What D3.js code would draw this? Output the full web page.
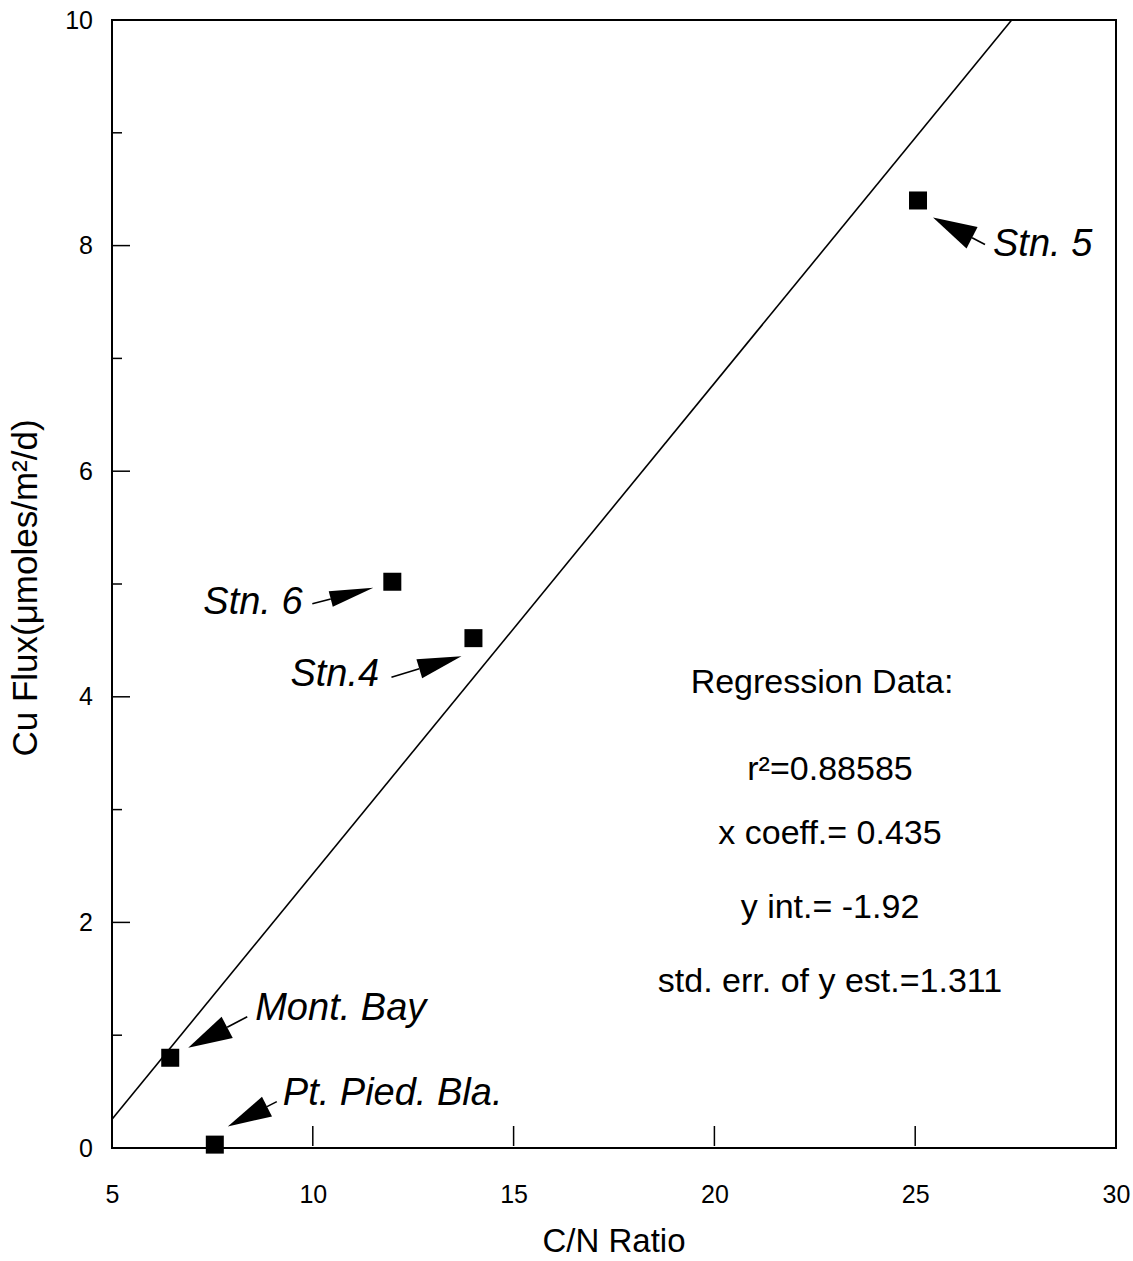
<!DOCTYPE html>
<html lang="en">
<head>
<meta charset="utf-8">
<title>Cu Flux vs C/N Ratio</title>
<script type="text/javascript" src="https://d3js.org/d3.v7.min.js"></script>
<style type="text/css">
  body { margin: 0; background: #fff; }
  svg text { font-family: "Liberation Sans", Arial, Helvetica, sans-serif; fill: #000; }
</style>
</head>
<body>
<script type="text/javascript">
// data
var stations = ["Stn. 5", "Stn. 6", "Stn.4", "Mont. Bay", "Pt. Pied. Bla."];
var cnRatio  = [25.07, 11.98, 14.0, 6.45, 7.56];
var cuFlux   = [8.40, 5.02, 4.52, 0.80, 0.03];

var regCoeff = 0.435, regInt = -1.92;
var regLines = ["r\u00B2=0.88585", "x coeff.= 0.435", "y int.= -1.92", "std. err. of y est.=1.311"];

var xTicks = [5, 10, 15, 20, 25, 30];
var yTicks = [0, 1, 2, 3, 4, 5, 6, 7, 8, 9, 10];

// label / arrow placement in pixels, relative to each point
var notes = {
  "Stn. 5":        {label: [75, 56],   tip: [15, 17],  tail: [67, 44], hw: 12},
  "Stn. 6":        {label: [-189, 32], tip: [-19, 6],  tail: [-80, 22], hw: 8},
  "Stn.4":         {label: [-183, 48], tip: [-12, 18], tail: [-82, 39], hw: 10},
  "Mont. Bay":     {label: [85, -38],  tip: [18, -10], tail: [77, -41], hw: 12},
  "Pt. Pied. Bla.":{label: [68, -40],  tip: [13, -18], tail: [62, -43], hw: 11}
};

var margin = {top: 20, right: 17, bottom: 113, left: 112},
    width = 1133 - margin.left - margin.right,
    height = 1261 - margin.top - margin.bottom;

var svg = d3.select("body").append("svg")
    .attr("width", 1133)
    .attr("height", 1261)
  .append("g")
    .attr("transform", "translate(" + margin.left + "," + margin.top + ")");

var x = d3.scaleLinear().domain([5, 30]).range([0, width]);
var y = d3.scaleLinear().domain([0, 10]).range([height, 0]);

// frame
svg.append("rect")
    .attr("x", 0).attr("y", 0)
    .attr("width", width).attr("height", height)
    .attr("fill", "none").attr("stroke", "#000").attr("stroke-width", 2);

// x axis: inward ticks at inner values, labels everywhere
var xAxis = svg.append("g")
    .attr("transform", "translate(0," + height + ")")
    .call(d3.axisBottom(x).tickValues(xTicks).tickSize(0).tickPadding(37).tickFormat(d3.format("d")));
xAxis.select(".domain").remove();
xAxis.selectAll("text").attr("font-size", "25px");

svg.append("g")
    .attr("transform", "translate(0," + height + ")")
    .selectAll("line")
    .data(xTicks.slice(1, -1))
    .enter().append("line")
    .attr("x1", function(d) { return x(d); })
    .attr("x2", function(d) { return x(d); })
    .attr("y1", -2).attr("y2", -22)
    .attr("stroke", "#000").attr("stroke-width", 1.5);

// y axis
var yAxis = svg.append("g")
    .call(d3.axisLeft(y).tickValues(yTicks).tickSize(0).tickPadding(19)
      .tickFormat(function(d) { return d % 2 === 0 ? d : ""; }));
yAxis.select(".domain").remove();
yAxis.selectAll("text").attr("font-size", "25px");

svg.append("g").selectAll("line")
    .data(yTicks.slice(1, -1))
    .enter().append("line")
    .attr("x1", 0)
    .attr("x2", function(d) { return d % 2 === 0 ? 18 : 10; })
    .attr("y1", function(d) { return y(d); })
    .attr("y2", function(d) { return y(d); })
    .attr("stroke", "#000").attr("stroke-width", 1.5);

// axis titles
svg.append("text")
    .attr("x", width / 2)
    .attr("y", height + 104)
    .attr("text-anchor", "middle")
    .attr("font-size", "33px")
    .text("C/N Ratio");

svg.append("text")
    .attr("transform", "translate(-75," + (y(5) + 4) + ") rotate(-90)")
    .attr("text-anchor", "middle")
    .attr("font-size", "35px")
    .text("Cu Flux(\u03BCmoles/m\u00B2/d)");

// regression line, clipped at y = 10
var xEnd = Math.min(30, (10 - regInt) / regCoeff);
svg.append("line")
    .attr("x1", x(5)).attr("y1", y(regCoeff * 5 + regInt))
    .attr("x2", x(xEnd)).attr("y2", y(regCoeff * xEnd + regInt))
    .attr("stroke", "#000").attr("stroke-width", 1.6);

// points
var pts = stations.map(function(s, i) { return {name: s, cn: cnRatio[i], cu: cuFlux[i]}; });

svg.selectAll(".pt")
    .data(pts)
    .enter().append("rect")
    .attr("class", "pt")
    .attr("x", function(d) { return x(d.cn) - 9; })
    .attr("y", function(d) { return y(d.cu) - 9; })
    .attr("width", 18).attr("height", 18)
    .attr("fill", "#000");

// arrows and labels
pts.forEach(function(d) {
  var n = notes[d.name];
  var px = x(d.cn), py = y(d.cu);
  var tx = px + n.tip[0], ty = py + n.tip[1];
  var sx = px + n.tail[0], sy = py + n.tail[1];
  var dx = sx - tx, dy = sy - ty, len = Math.sqrt(dx * dx + dy * dy);
  var ux = dx / len, uy = dy / len;
  var hl = 44, hw = n.hw;
  var bx = tx + ux * hl, by = ty + uy * hl;

  svg.append("line")
      .attr("x1", sx).attr("y1", sy).attr("x2", bx).attr("y2", by)
      .attr("stroke", "#000").attr("stroke-width", 1.6);

  svg.append("path")
      .attr("d", "M" + tx + "," + ty +
                 "L" + (bx - uy * hw) + "," + (by + ux * hw) +
                 "L" + (bx + uy * hw) + "," + (by - ux * hw) + "Z")
      .attr("fill", "#000");

  svg.append("text")
      .attr("x", px + n.label[0])
      .attr("y", py + n.label[1])
      .attr("font-size", "38px")
      .attr("font-style", "italic")
      .text(d.name);
});

// regression data block
svg.append("text")
    .attr("x", 710).attr("y", 673)
    .attr("text-anchor", "middle")
    .attr("font-size", "34px")
    .text("Regression Data:");

svg.selectAll(".reg")
    .data(regLines)
    .enter().append("text")
    .attr("class", "reg")
    .attr("x", 718)
    .attr("y", function(d, i) { return [760, 824, 898, 972][i]; })
    .attr("text-anchor", "middle")
    .attr("font-size", "34px")
    .text(function(d) { return d; });
</script>
</body>
</html>
